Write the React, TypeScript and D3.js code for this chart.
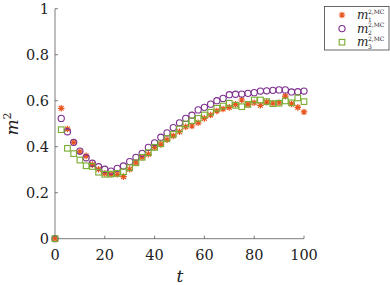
import React from 'react';
import * as d3 from 'd3';

// time steps
const tValues = [
  0, 2.5, 5, 7.5, 10, 12.5, 15, 17.5, 20, 22.5, 25, 27.5, 30, 32.5, 35, 37.5, 40,
  42.5, 45, 47.5, 50, 52.5, 55, 57.5, 60, 62.5, 65, 67.5, 70, 72.5, 75, 77.5, 80,
  82.5, 85, 87.5, 90, 92.5, 95, 97.5, 100,
];

// m_1^{2,MC}
const m1 = [
  0, 0.567, 0.477, 0.419, 0.378, 0.36, 0.322, 0.302, 0.284, 0.28, 0.28, 0.27,
  0.302, 0.33, 0.354, 0.367, 0.397, 0.41, 0.43, 0.447, 0.465, 0.487, 0.49, 0.504,
  0.523, 0.538, 0.555, 0.564, 0.571, 0.584, 0.603, 0.584, 0.591, 0.58, 0.594,
  0.589, 0.591, 0.62, 0.586, 0.571, 0.551,
];

// m_2^{2,MC}
const m2 = [
  0, 0.523, 0.465, 0.419, 0.381, 0.352, 0.328, 0.313, 0.302, 0.294, 0.306, 0.316,
  0.335, 0.354, 0.371, 0.397, 0.417, 0.441, 0.46, 0.483, 0.504, 0.523, 0.537,
  0.56, 0.571, 0.585, 0.6, 0.61, 0.626, 0.628, 0.629, 0.632, 0.635, 0.642, 0.643,
  0.645, 0.647, 0.647, 0.638, 0.639, 0.642,
];

// m_3^{2,MC}
const m3 = [
  0, 0.474, 0.393, 0.37, 0.342, 0.317, 0.314, 0.289, 0.28, 0.281, 0.284, 0.291,
  0.309, 0.33, 0.354, 0.374, 0.397, 0.413, 0.436, 0.454, 0.477, 0.499, 0.513,
  0.523, 0.538, 0.55, 0.567, 0.577, 0.589, 0.58, 0.574, 0.584, 0.603, 0.603,
  0.596, 0.587, 0.589, 0.599, 0.591, 0.612, 0.596,
];

const xTicks = [0, 20, 40, 60, 80, 100];
const yTicks = [0, 0.2, 0.4, 0.6, 0.8, 1];
const seriesNames = ['1', '2', '3'];

const ORANGE = '#E6561F';
const PURPLE = '#7E2F8E';
const GREEN = '#77AC30';
const AXIS = '#5a5a5a';
const FONT = "'DejaVu Serif', serif";

const W = 390;
const H = 285;

// marker shapes
const Star = ({ x, y }: { x: number; y: number }) => {
  const s = 3.3;
  const d = s * 0.72;
  return (
    <path
      d={`M${x - s},${y}L${x + s},${y}M${x},${y - s}L${x},${y + s}M${x - d},${y - d}L${x + d},${y + d}M${x - d},${y + d}L${x + d},${y - d}`}
      stroke={ORANGE}
      strokeWidth={1.2}
      fill="none"
    />
  );
};

const Circle = ({ x, y }: { x: number; y: number }) => (
  <circle cx={x} cy={y} r={3.1} stroke={PURPLE} strokeWidth={1.1} fill="none" />
);

const Square = ({ x, y }: { x: number; y: number }) => (
  <rect x={x - 2.8} y={y - 2.8} width={5.6} height={5.6} stroke={GREEN} strokeWidth={1.1} fill="none" />
);

const markers = [Star, Circle, Square];

const App = () => {
  const x = d3.scaleLinear().domain([0, 100]).range([55, 304]);
  const y = d3.scaleLinear().domain([0, 1]).range([238.7, 8.7]);

  const series = [m1, m2, m3];
  const fmt = d3.format('');
  const rowY = (i: number) => 15 + i * 13.6;

  return (
    <svg
      width={W}
      height={H}
      style={{ position: 'absolute', left: 0, top: 0, background: '#fff', fontFamily: FONT }}
    >
      {/* axes */}
      <line x1={x(0)} x2={x(100)} y1={y(0)} y2={y(0)} stroke={AXIS} strokeWidth={0.8} />
      <line x1={x(0)} x2={x(0)} y1={y(0)} y2={y(1)} stroke={AXIS} strokeWidth={0.8} />
      {xTicks.map(t => (
        <g key={'xt' + t}>
          <line x1={x(t)} x2={x(t)} y1={y(0)} y2={y(0) - 3} stroke={AXIS} strokeWidth={0.8} />
          <text x={x(t)} y={260} textAnchor="middle" fontSize={14.5} fill="#222">
            {fmt(t)}
          </text>
        </g>
      ))}
      {yTicks.map(v => (
        <g key={'yt' + v}>
          <line x1={x(0)} x2={x(0) + 3} y1={y(v)} y2={y(v)} stroke={AXIS} strokeWidth={0.8} />
          <text x={49} y={y(v) + 5} textAnchor="end" fontSize={14.5} fill="#222">
            {fmt(v)}
          </text>
        </g>
      ))}

      {/* axis labels */}
      <text x={180} y={282} textAnchor="middle" fontSize={17} fontStyle="italic" fill="#222">
        t
      </text>
      <text
        transform="translate(18,124) rotate(-90)"
        textAnchor="middle"
        fontSize={17}
        fontStyle="italic"
        fill="#222"
      >
        m
        <tspan fontStyle="normal" fontSize={11} dy={-7}>
          2
        </tspan>
      </text>

      {/* data */}
      {series.map((vals, si) => {
        const M = markers[si];
        return (
          <g key={'s' + si}>
            {vals.map((v, i) => (
              <M key={i} x={x(tValues[i])} y={y(v)} />
            ))}
          </g>
        );
      })}

      {/* legend */}
      <rect x={324.5} y={6.5} width={64.5} height={43.5} fill="#fff" stroke="#444" strokeWidth={0.8} />
      {seriesNames.map((n, i) => {
        const M = markers[i];
        return <M key={'lm' + n} x={342} y={rowY(i)} />;
      })}
      <text fontSize={12} fill="#222">
        {seriesNames.map((n, i) => (
          <React.Fragment key={'lt' + n}>
            <tspan x={357} y={rowY(i) + 4} fontStyle="italic">
              m
            </tspan>
            <tspan x={368} y={rowY(i) - 1.5} fontSize={6}>
              2,MC
            </tspan>
            <tspan x={368} y={rowY(i) + 6.5} fontSize={6}>
              {n}
            </tspan>
          </React.Fragment>
        ))}
      </text>
    </svg>
  );
};

export default App;
